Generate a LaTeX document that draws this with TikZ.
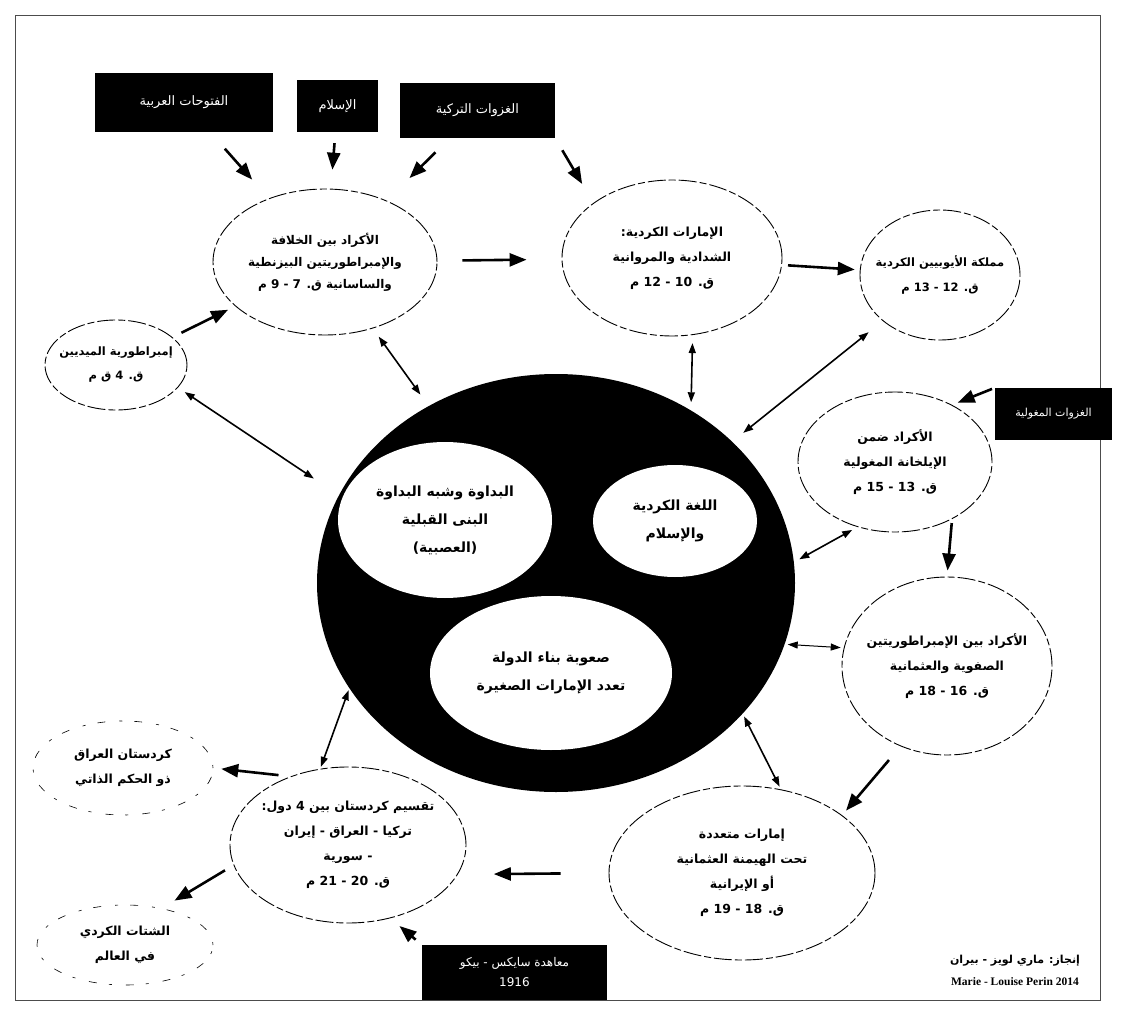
\documentclass[tikz,border=0pt]{standalone}
\usepackage{fontspec}
\setmainfont{Liberation Serif}
\newfontfamily\arabicfont[Script=Arabic]{DejaVu Sans}
\TeXXeTstate=1
\usetikzlibrary{shapes.geometric,arrows.meta}
\newcommand{\rl}[1]{\beginR #1\endR}
\begin{document}
\begin{tikzpicture}[x=1pt,y=-1pt,
  ell/.style={draw, ellipse, inner xsep=-30pt, inner ysep=-20pt, line width=0.9pt,
    dash pattern=on 18pt off 3pt on 7pt off 3pt, align=center,
    font=\arabicfont\bfseries\fontsize{12.5}{25}\selectfont},
  ellthin/.style={ell, line width=0.6pt, dash pattern=on 3pt off 14pt on 8pt off 12pt},
  inner/.style={fill=white, ellipse, inner sep=0pt, align=center,
    font=\arabicfont\bfseries\fontsize{14}{28}\selectfont},
  blk/.style={fill=black, inner sep=0pt, align=center, text=white,
    font=\arabicfont\fontsize{13}{20}\selectfont},
  arr/.style={line width=2.6pt, -{Triangle[length=17pt,width=13pt]}},
  darr/.style={line width=1.6pt, {Triangle[length=10pt,width=7pt]}-{Triangle[length=10pt,width=7pt]}}
]
\useasboundingbox (0,0) rectangle (1128,1035);
\fill[white] (0,0) rectangle (1128,1035);
\draw[line width=0.8pt, black!70] (15,15) rectangle (1100,1000);

% central core
\node[ellipse, fill=black, minimum width=478, minimum height=418, inner sep=0pt] (C) at (556,583) {};
\node[inner, minimum width=214, minimum height=156] (i1) at (445,520)
  {\rl{البداوة وشبه البداوة}\\\rl{البنى القبلية}\\\rl{(العصبية)}};
\node[inner, minimum width=164, minimum height=112] (i2) at (675,521)
  {\rl{اللغة الكردية}\\\rl{والإسلام}};
\node[inner, minimum width=242, minimum height=154] (i3) at (551,673)
  {\rl{صعوبة بناء الدولة}\\\rl{تعدد الإمارات الصغيرة}};

% outer ellipses
\node[ell, minimum width=224, minimum height=146, font=\arabicfont\bfseries\fontsize{12}{22}\selectfont] (e1) at (325,262)
  {\rl{الأكراد بين الخلافة}\\\rl{والإمبراطوريتين البيزنطية}\\\rl{والساسانية ق. 7 - 9 م}};
\node[ell, minimum width=220, minimum height=156] (e2) at (672,258)
  {\rl{الإمارات الكردية:}\\\rl{الشدادية والمروانية}\\\rl{ق. 10 - 12 م}};
\node[ell, minimum width=160, minimum height=130, font=\arabicfont\bfseries\fontsize{11.5}{25}\selectfont] (e3) at (940,275)
  {\rl{مملكة الأيوبيين الكردية}\\\rl{ق. 12 - 13 م}};
\node[ell, minimum width=142, minimum height=90, font=\arabicfont\bfseries\fontsize{11.5}{24}\selectfont] (e4) at (116,365)
  {\rl{إمبراطورية الميديين}\\\rl{ق. 4 ق م}};
\node[ell, minimum width=194, minimum height=140] (e5) at (895,462)
  {\rl{الأكراد ضمن}\\\rl{الإيلخانة المغولية}\\\rl{ق. 13 - 15 م}};
\node[ell, minimum width=210, minimum height=178] (e6) at (947,666)
  {\rl{الأكراد بين الإمبراطوريتين}\\\rl{الصفوية والعثمانية}\\\rl{ق. 16 - 18 م}};
\node[ell, minimum width=266, minimum height=174] (e7) at (742,873)
  {\rl{إمارات متعددة}\\\rl{تحت الهيمنة العثمانية}\\\rl{أو الإيرانية}\\\rl{ق. 18 - 19 م}};
\node[ell, minimum width=236, minimum height=156] (e8) at (348,845)
  {\rl{تقسيم كردستان بين 4 دول:}\\\rl{تركيا - العراق - إيران}\\\rl{- سورية}\\\rl{ق. 20 - 21 م}};
\node[ellthin, minimum width=180, minimum height=94] (e9) at (123,768)
  {\rl{كردستان العراق}\\\rl{ذو الحكم الذاتي}};
\node[ellthin, minimum width=176, minimum height=80] (e10) at (125,945)
  {\rl{الشتات الكردي}\\\rl{في العالم}};

% black boxes
\node[blk, minimum width=178, minimum height=59] (b1) at (184,102.5) {\rl{الفتوحات العربية}};
\node[blk, minimum width=81, minimum height=52] (b2) at (337.5,106) {\rl{الإسلام}};
\node[blk, minimum width=155, minimum height=55] (b3) at (477.5,110.5) {\rl{الغزوات التركية}};
\node[blk, minimum width=117, minimum height=52, font=\arabicfont\fontsize{11}{16}\selectfont] (br) at (1053.5,414) {\rl{الغزوات المغولية}};
\node[blk, minimum width=185, minimum height=55, font=\arabicfont\fontsize{12}{20}\selectfont] (b5) at (514.5,972.5) {\rl{معاهدة سايكس - بيكو}\\1916};

% credit
\node[font=\arabicfont\bfseries\fontsize{11}{14}\selectfont] (cr1) at (1015,961) {\rl{إنجاز: ماري لويز - بيران}};
\node[font=\bfseries\fontsize{11.5}{14}\selectfont] (cr2) at (1015,982) {Marie - Louise Perin 2014};

% arrows from boxes
\draw[arr, shorten <=22pt, shorten >=25pt] (b1) -- (e1);
\draw[arr, shorten <=11pt, shorten >=19pt] (b2) -- (e1);
\draw[arr, shorten <=20pt, shorten >=32pt] (b3) -- (e1);
\draw[arr, shorten <=14pt, shorten >=22pt] (b3.south east) -- (e2.145);
\draw[arr, shorten <=3pt, shorten >=6pt] (br.north west) -- (e5.45);
\draw[arr, shorten <=8pt, shorten >=12pt] (b5.north west) -- (e8.-60);

% chronological flow
\draw[arr, shorten <=10pt, shorten >=8pt] (e4) -- (e1);
\draw[arr, shorten <=25pt, shorten >=35pt] (e1) -- (e2);
\draw[arr, shorten <=6pt, shorten >=5pt] (e2) -- (e3);
\draw[arr, shorten <=4pt, shorten >=6pt] (e5.-45) -- (e6.north);
\draw[arr, shorten <=18pt, shorten >=6pt] (e6.-120) -- (e7.30);
\draw[arr, shorten <=48pt, shorten >=36pt] (e7.west) -- (e8.-15);
\draw[arr, shorten <=12pt, shorten >=8pt] (e8.130) -- (e9.east);
\draw[arr, shorten <=10pt, shorten >=15pt] (e8.190) -- (e10.45);

% links with the core
\draw[darr, shorten <=18pt, shorten >=14pt] (e3) -- (C);
\draw[darr, shorten <=10pt, shorten >=14pt] (e1) -- (C);
\draw[darr, shorten <=8pt, shorten >=8pt] (e2.-75) -- (C.52);
\draw[darr, shorten <=8pt, shorten >=30pt] (e4.-20) -- (C.158);
\draw[darr, shorten <=6pt, shorten >=6pt] (e5.-120) -- (C.5);
\draw[darr, line width=1pt, shorten <=3pt, shorten >=3pt] (e6.170) -- (C.-15);
\draw[darr, shorten <=3pt, shorten >=3pt] (C.-35) -- (e7.65);
\draw[darr, shorten <=2pt, shorten >=2pt] (C.-153) -- (e8.110);
\end{tikzpicture}
\end{document}
